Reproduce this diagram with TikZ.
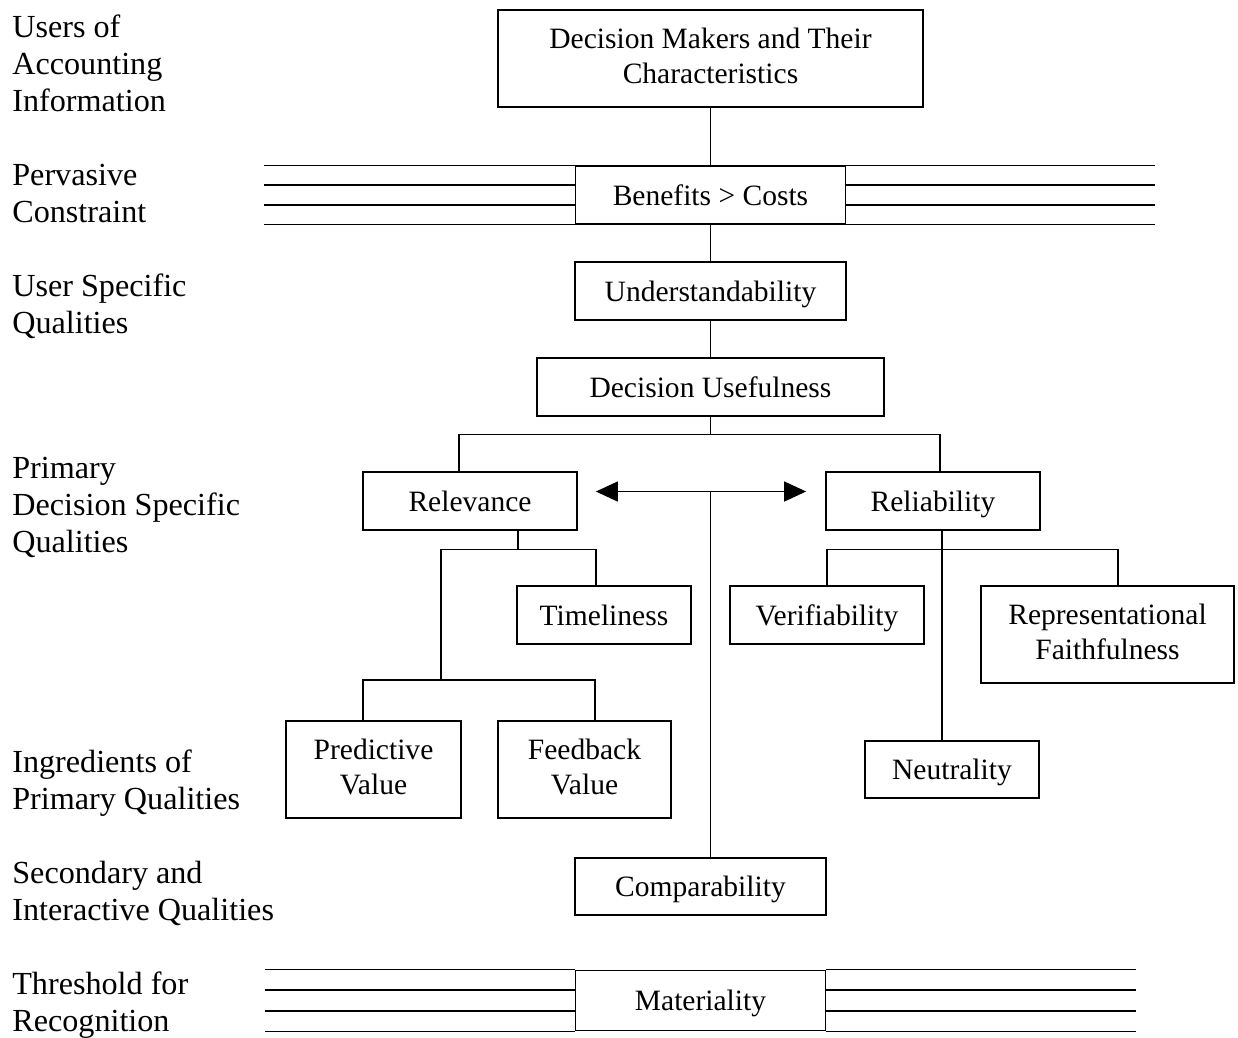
\documentclass[tikz,border=0pt]{standalone}
\usepackage{fontspec}
\setmainfont{Liberation Serif}
\usetikzlibrary{positioning,arrows.meta,calc}

\begin{document}
\begin{tikzpicture}[
    node distance=1.92cm,
    box/.style={rectangle, draw, line width=1pt, align=center, minimum height=1.15cm, inner sep=2pt, text height=11.6pt, text depth=0pt, font=\fontsize{16.8}{20}\selectfont},
    tallbox/.style={box, minimum height=1.94cm, text height=, text depth=, execute at end node={\rule[-3.4pt]{0pt}{3.4pt}}},
    lvl/.style={align=left, anchor=west, inner sep=0pt, font=\fontsize{18.3}{21}\selectfont},
    link/.style={line width=0.9pt},
    arrow/.style={line width=0.9pt, <->, >={Triangle[length=0.44cm, width=0.4cm]}}
]
    \useasboundingbox (-14.21,1.17) rectangle (10.55,-19.57);

    % Main chain
    \node [tallbox, minimum width=8.5cm] (dm) {Decision Makers and Their\\Characteristics};
    \node [box, minimum width=5.4cm, below of=dm, yshift=-0.81cm] (ben) {Benefits > Costs};
    \node [box, minimum width=5.42cm, below of=ben] (und) {Understandability};
    \node [box, minimum width=6.94cm, below of=und] (use) {Decision Usefulness};

    % Primary qualities
    \node [box, minimum width=4.28cm, below of=use, xshift=-4.81cm, yshift=-0.36cm] (rel) {Relevance};
    \node [box, minimum width=4.28cm, below of=use, xshift=4.45cm, yshift=-0.36cm] (relia) {Reliability};

    % Ingredients
    \node [box, minimum width=3.48cm, below of=rel, xshift=2.68cm, yshift=-0.36cm] (time) {Timeliness};
    \node [tallbox, minimum width=3.5cm, below of=time, xshift=-4.61cm, yshift=-1.17cm] (pred) {Predictive\\Value};
    \node [tallbox, minimum width=3.46cm, right of=pred, xshift=2.3cm] (feed) {Feedback\\Value};
    \node [box, minimum width=3.88cm, below of=relia, xshift=-2.12cm, yshift=-0.36cm] (ver) {Verifiability};
    \node [tallbox, minimum width=5.06cm, below of=relia, xshift=3.49cm, yshift=-0.75cm] (rep) {Representational\\Faithfulness};
    \node [box, minimum width=3.48cm, below of=relia, xshift=0.38cm, yshift=-3.45cm] (neu) {Neutrality};

    % Secondary and threshold
    \node [box, minimum width=5.02cm, below of=feed, xshift=2.32cm, yshift=-0.42cm] (comp) {Comparability};
    \node [box, minimum width=5cm, minimum height=1.2cm, below of=comp, yshift=-0.36cm] (mat) {Materiality};

    % Connectors
    \draw [link] (dm) -- (ben);
    \draw [link] (ben) -- (und);
    \draw [link] (und) -- (use);
    \draw [link] (use.south) -- ++(0,-0.36) coordinate (split);
    \draw [link] ([xshift=-0.22cm]rel.north) |- (split) -| ([xshift=0.14cm]relia.north);

    \draw [link] ([xshift=0.96cm]rel.south) -- ++(0,-0.38) coordinate (relsplit);
    \coordinate (ingr) at ([xshift=1.35cm, yshift=0.8cm]pred.north);
    \draw [link] ([xshift=-0.16cm]time.north) |- (relsplit) -| (ingr);
    \draw [link] ([xshift=-0.21cm]pred.north) |- (ingr) -| ([xshift=0.21cm]feed.north);

    \coordinate (rstem) at ([xshift=0.18cm]relia.south);
    \draw [link] (rstem) -- (rstem |- neu.north);
    \draw [link] (ver.north) |- ([yshift=-0.38cm]rstem) -| ([xshift=0.21cm]rep.north);

    \coordinate (hub) at ($(use.south |- rel.east)+(0,0.19)$);
    \draw [arrow] ([xshift=0.36cm, yshift=0.19cm]rel.east) -- ([xshift=-0.38cm, yshift=0.19cm]relia.west);
    \draw [link] (hub) -- (hub |- comp.north);

    % Constraint bands
    \foreach \pos in {0,0.333,0.667,1} {
        \draw [link] ($(ben.north west)!\pos!(ben.south west)$) -- ++(-6.22,0);
        \draw [link] ($(ben.north east)!\pos!(ben.south east)$) -- ++(6.18,0);
        \draw [link] ($(mat.north west)!\pos!(mat.south west)$) -- ++(-6.2,0);
        \draw [link] ($(mat.north east)!\pos!(mat.south east)$) -- ++(6.2,0);
    }

    % Level labels
    \coordinate (margin) at (-13.97,0);
    \node [lvl, yshift=-0.09cm] (lusers) at (margin |- dm) {Users of\\Accounting\\Information};
    \node [lvl, yshift=0.03cm] (lconstr) at (margin |- ben) {Pervasive\\Constraint};
    \node [lvl, yshift=-0.31cm] (luser) at (margin |- und) {User Specific\\Qualities};
    \node [lvl, yshift=-0.13cm] (lprim) at (margin |- rel) {Primary\\Decision Specific\\Qualities};
    \node [lvl, yshift=-0.27cm] (lingr) at (margin |- pred) {Ingredients of\\Primary Qualities};
    \node [lvl, yshift=-0.14cm] (lsec) at (margin |- comp) {Secondary and\\Interactive Qualities};
    \node [lvl, yshift=-0.09cm] (lthr) at (margin |- mat) {Threshold for\\Recognition};
\end{tikzpicture}
\end{document}
